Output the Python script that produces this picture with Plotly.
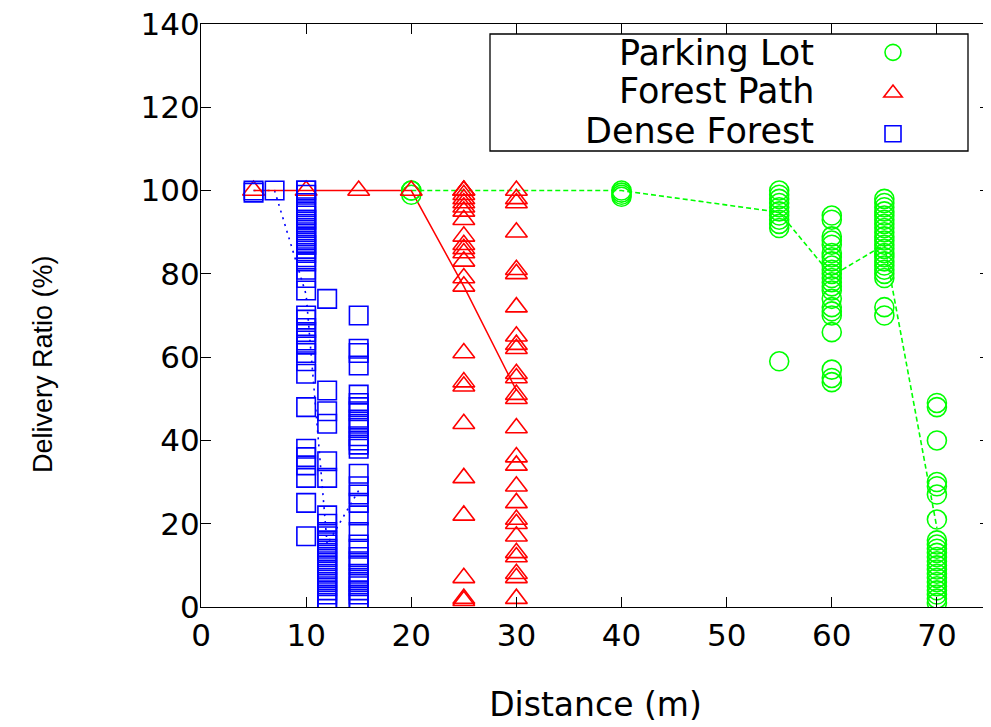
import plotly.graph_objects as go

# ---------------- data ----------------
parking_dist = [20, 40, 55, 60, 65, 70]
parking_vals = [
    [100, 100, 99],
    [100, 99.5, 99, 98.5],
    [100, 99, 98, 97, 96, 95, 94, 93, 92, 91, 59],
    [94, 93, 89, 88, 87, 85, 84, 83, 82, 81, 80, 79, 78, 77, 76, 74, 72, 71, 70, 66, 57, 55, 54],
    [98, 97, 96, 95, 94, 93, 92, 91, 90, 89, 88, 87, 86, 85, 84, 83, 82, 81, 80, 79, 72, 70],
    [49, 48, 40, 30, 29, 27, 21, 16, 15, 14, 13, 12, 11, 10, 9, 8, 7, 6, 5, 4, 3, 2, 1],
]
parking_mean = [100, 100, 94.8, 79.5, 87, 19]

path_dist = [5, 10, 15, 20, 25, 30]
path_vals = [
    [100],
    [100],
    [100],
    [100],
    [100, 100, 100, 99, 98, 97, 96, 95, 93, 89, 87, 86, 85, 83, 79, 77, 61, 54, 53, 44, 31, 22, 7, 2, 1.5],
    [100, 98, 97, 90, 81, 80, 72, 65, 63, 62, 56, 55, 51, 50, 43, 36, 34, 29, 25, 21, 20, 17, 13, 12, 8, 7, 2],
]
path_mean = [100, 100, 100, 100, 77, 52]

dense_dist = [5, 7, 10, 12, 15]
dense_vals = [
    [100, 99.5],
    [100],
    [100, 100, 99, 97, 96, 95, 94, 93, 93, 92, 91, 90, 89, 88, 87, 87, 86, 85, 84, 83, 81, 79, 76,
     70, 69, 67, 66, 64, 63, 61, 59, 56, 48, 38, 36, 34, 31, 25, 17],
    [74, 52, 47, 44, 35, 31, 22, 20, 18, 17, 16, 15, 14, 13, 12, 11, 10, 9, 8, 7, 6, 5, 4, 3, 2, 1],
    [70, 62, 61, 58, 51, 49, 48, 47, 45, 44, 43, 41, 40, 39, 38, 32, 29, 27, 25, 22, 18, 15, 14, 12,
     11, 10, 8, 7, 6, 5, 4, 3, 2, 1],
]
dense_mean = [100, 100, 75, 15, 28]

series_names = ["Parking Lot", "Forest Path", "Dense Forest"]
x_title = "Distance (m)"
y_title = "Delivery Ratio (%)"
x_ticks = [0, 10, 20, 30, 40, 50, 60, 70]
y_ticks = [0, 20, 40, 60, 80, 100, 120, 140]

GREEN, RED, BLUE = "#00ff00", "#ff0000", "#0000ff"
WIDE = "DejaVu Sans, Verdana, sans-serif"
HELV = "Liberation Sans, Arial, sans-serif"


def flatten(dists, vals):
    xs, ys = [], []
    for d, vs in zip(dists, vals):
        for v in vs:
            xs.append(d)
            ys.append(v)
    return xs, ys


fig = go.Figure()

# mean lines
fig.add_trace(go.Scatter(x=dense_dist, y=dense_mean, mode="lines",
                         line=dict(color=BLUE, width=1.6, dash="2px,5px"),
                         showlegend=False, hoverinfo="skip"))
fig.add_trace(go.Scatter(x=parking_dist, y=parking_mean, mode="lines",
                         line=dict(color=GREEN, width=1.6, dash="5px,3px"),
                         showlegend=False, hoverinfo="skip"))
fig.add_trace(go.Scatter(x=path_dist, y=path_mean, mode="lines",
                         line=dict(color=RED, width=1.5),
                         showlegend=False, hoverinfo="skip"))

px_, py_ = flatten(parking_dist, parking_vals)
tx_, ty_ = flatten(path_dist, path_vals)
dx_, dy_ = flatten(dense_dist, dense_vals)

fig.add_trace(go.Scatter(x=px_, y=py_, mode="markers", name=" ", legendrank=1,
                         marker=dict(symbol="circle-open", size=19, color=GREEN,
                                     line=dict(width=1.6, color=GREEN))))
fig.add_trace(go.Scatter(x=tx_, y=ty_, mode="markers", name=" ", legendrank=2,
                         marker=dict(symbol="triangle-up-open", size=19, color=RED,
                                     line=dict(width=1.6, color=RED))))
fig.add_trace(go.Scatter(x=dx_, y=dy_, mode="markers", name=" ", legendrank=3,
                         marker=dict(symbol="square-open", size=18.5, color=BLUE,
                                     line=dict(width=1.6, color=BLUE))))

# page has an 8px body margin, so the figure is drawn from (8, 8) of the window
OFF = 8
FW, FH = 991 - OFF, 727 - OFF
PL, PR, PT, PB = 201, 990, 24, 607          # plot area in window pixels
L, T = PL - OFF, PT - OFF
R, B = FW - (PR - OFF), FH - (PB - OFF)
PW, PH = PR - PL, PB - PT


def paper_x(px):
    return (px - PL) / PW


def paper_y(py):
    return (PB - py) / PH


fig.add_shape(type="rect", xref="paper", yref="paper",
              x0=paper_x(490), x1=paper_x(968), y0=paper_y(151), y1=paper_y(34),
              line=dict(color="black", width=1.3), fillcolor="white", layer="below")
for name, py in zip(series_names, [53, 91, 131]):
    fig.add_annotation(xref="paper", yref="paper", x=paper_x(816), y=paper_y(py),
                       text=name, showarrow=False, xanchor="right", yanchor="middle",
                       font=dict(family=WIDE, size=35, color="black"))

# y axis title (sits lower than the plot centre in the original)
fig.add_annotation(xref="paper", yref="paper", x=paper_x(43), y=paper_y(364),
                   text=y_title, textangle=-90, showarrow=False,
                   xanchor="center", yanchor="middle",
                   font=dict(family=HELV, size=27, color="black"))

axis_common = dict(showline=True, linecolor="black", linewidth=1.2, mirror="allticks",
                   ticks="inside", ticklen=10, tickwidth=1.2, tickcolor="black",
                   showgrid=False, zeroline=False, automargin=False,
                   ticklabeloverflow="allow",
                   tickfont=dict(family=WIDE, size=31, color="black"))

fig.update_layout(
    width=FW, height=FH,
    margin=dict(l=L, r=R, t=T, b=B),
    paper_bgcolor="white", plot_bgcolor="white",
    xaxis=dict(range=[0, 75.05], tickvals=x_ticks, ticklabelstandoff=1,
               title=dict(text=x_title, standoff=40,
                          font=dict(family=WIDE, size=33, color="black")),
               **axis_common),
    yaxis=dict(range=[0, 140], tickvals=y_ticks, ticklabelstandoff=-6,
               **axis_common),
    legend=dict(x=paper_x(873), y=paper_y(27), xanchor="left", yanchor="top",
                bgcolor="rgba(0,0,0,0)", borderwidth=0, tracegroupgap=0,
                font=dict(family=WIDE, size=29), itemwidth=30),
    showlegend=True,
)

fig.write_html("out.html")
